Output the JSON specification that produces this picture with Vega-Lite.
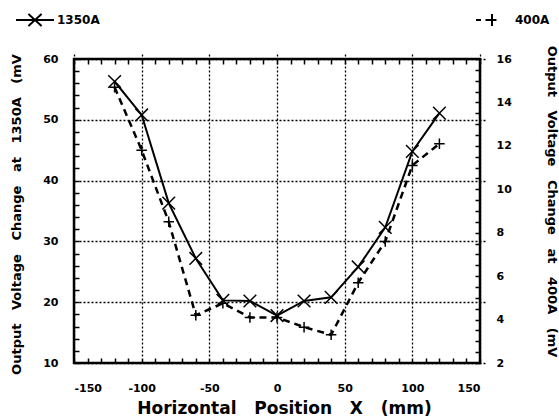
{
  "$schema": "https://vega.github.io/schema/vega-lite/v6.json",
  "width": 406,
  "height": 304,
  "autosize": {"type": "none"},
  "padding": {"left": 74, "top": 59, "right": 79, "bottom": 56},
  "background": "white",
  "config": {
    "view": {"stroke": "black", "strokeWidth": 2.5},
    "axis": {
      "labelFont": "DejaVu Sans",
      "labelFontWeight": "bold",
      "labelFontSize": 11,
      "labelColor": "black",
      "titleFont": "DejaVu Sans",
      "titleFontWeight": "bold",
      "titleColor": "black",
      "domain": false,
      "tickColor": "black",
      "tickWidth": 1.5,
      "tickSize": 5,
      "offset": -5,
      "gridColor": "black",
      "gridDash": [2, 2],
      "gridWidth": 1.3
    }
  },
  "datasets": {
    "d": [
      {"x": -120, "v1350": 56.3, "v400": 14.7},
      {"x": -100, "v1350": 50.8, "v400": 11.8},
      {"x": -80, "v1350": 36.3, "v400": 8.5},
      {"x": -60, "v1350": 27.2, "v400": 4.2},
      {"x": -40, "v1350": 20.3, "v400": 4.75},
      {"x": -20, "v1350": 20.2, "v400": 4.1},
      {"x": 0, "v1350": 17.8, "v400": 4.1},
      {"x": 20, "v1350": 20.2, "v400": 3.65},
      {"x": 40, "v1350": 20.8, "v400": 3.3},
      {"x": 60, "v1350": 25.8, "v400": 5.7},
      {"x": 80, "v1350": 32.3, "v400": 7.6},
      {"x": 100, "v1350": 44.8, "v400": 11.1},
      {"x": 120, "v1350": 51.1, "v400": 12.1}
    ]
  },
  "data": {"name": "d"},
  "layer": [
    {
      "encoding": {
        "x": {
          "field": "x",
          "type": "quantitative",
          "scale": {"domain": [-150, 150], "nice": false},
          "axis": {
            "orient": "bottom",
            "values": [-150, -140, -130, -120, -110, -100, -90, -80, -70, -60, -50, -40, -30, -20, -10, 0, 10, 20, 30, 40, 50, 60, 70, 80, 90, 100, 110, 120, 130, 140, 150],
            "labelExpr": "datum.value % 50 === 0 ? '' + datum.value : ''",
            "labelPadding": 19,
            "grid": true,
            "gridOpacity": {"condition": {"test": "datum.value % 50 === 0", "value": 1}, "value": 0},
            "title": "Horizontal\u00a0\u00a0\u00a0Position\u00a0\u00a0\u00a0X\u00a0\u00a0\u00a0(mm)",
            "titleFontSize": 17,
            "titleBaseline": "alphabetic",
            "titleX": 210,
            "titleY": 55
          }
        },
        "y": {
          "field": "v1350",
          "type": "quantitative",
          "scale": {"domain": [10, 60], "nice": false, "zero": false},
          "axis": {
            "orient": "left",
            "values": [10, 12, 14, 16, 18, 20, 22, 24, 26, 28, 30, 32, 34, 36, 38, 40, 42, 44, 46, 48, 50, 52, 54, 56, 58, 60],
            "labelExpr": "datum.value % 10 === 0 ? '' + datum.value : ''",
            "labelPadding": 16,
            "grid": true,
            "gridOpacity": {"condition": {"test": "datum.value % 10 === 0", "value": 1}, "value": 0},
            "title": "Output\u00a0\u00a0\u00a0Voltage\u00a0\u00a0\u00a0Change\u00a0\u00a0\u00a0at\u00a0\u00a0\u00a01350A\u00a0\u00a0\u00a0(mV",
            "titleFontSize": 13,
            "titleAngle": -90,
            "titleBaseline": "middle",
            "titleX": -63,
            "titleY": 155
          }
        }
      },
      "layer": [
        {
          "mark": {"type": "line", "strokeWidth": 2},
          "encoding": {
            "color": {
              "datum": "1350A",
              "scale": {"range": ["black"]},
              "legend": {
                "orient": "none",
                "legendX": -59,
                "legendY": -59,
                "title": null,
                "padding": 0,
                "symbolType": "M-1,0L1,0M-0.35,-0.32L0.35,0.32M-0.35,0.32L0.35,-0.32",
                "symbolSize": 1444,
                "symbolStrokeWidth": 2,
                "symbolStrokeColor": "black",
                "symbolFillColor": "transparent",
                "symbolDash": [1, 0],
                "labelFont": "DejaVu Sans",
                "labelFontWeight": "bold",
                "labelFontSize": 12,
                "labelColor": "black",
                "labelOffset": 2
              }
            }
          }
        },
        {
          "mark": {"type": "point", "shape": "M-1,-1L1,1M-1,1L1,-1", "size": 160, "filled": false, "color": "black", "strokeWidth": 1.5, "opacity": 1}
        }
      ]
    },
    {
      "encoding": {
        "x": {
          "field": "x",
          "type": "quantitative",
          "scale": {"domain": [-150, 150], "nice": false},
          "axis": {
            "orient": "top",
            "values": [-150, -140, -130, -120, -110, -100, -90, -80, -70, -60, -50, -40, -30, -20, -10, 0, 10, 20, 30, 40, 50, 60, 70, 80, 90, 100, 110, 120, 130, 140, 150],
            "labels": false,
            "grid": false,
            "title": null
          }
        },
        "y": {
          "field": "v400",
          "type": "quantitative",
          "scale": {"domain": [2, 16], "nice": false, "zero": false},
          "axis": {
            "orient": "right",
            "values": [2, 2.5, 3, 3.5, 4, 4.5, 5, 5.5, 6, 6.5, 7, 7.5, 8, 8.5, 9, 9.5, 10, 10.5, 11, 11.5, 12, 12.5, 13, 13.5, 14, 14.5, 15, 15.5, 16],
            "labelExpr": "datum.value % 2 === 0 ? '' + datum.value : ''",
            "labelPadding": 16,
            "grid": false,
            "title": "Output\u00a0\u00a0\u00a0Voltage\u00a0\u00a0\u00a0Change\u00a0\u00a0\u00a0at\u00a0\u00a0\u00a0400A\u00a0\u00a0\u00a0(mV",
            "titleFontSize": 13,
            "titleAngle": 90,
            "titleBaseline": "middle",
            "titleX": 76,
            "titleY": 142
          }
        }
      },
      "layer": [
        {
          "mark": {"type": "line", "strokeWidth": 2.5, "strokeDash": [7, 5]},
          "encoding": {
            "color": {
              "datum": "400A",
              "scale": {"range": ["black"]},
              "legend": {
                "orient": "none",
                "legendX": 401,
                "legendY": -50,
                "title": null,
                "padding": 0,
                "symbolType": "M-1,0L-0.5,0M-0.05,0L1.05,0M0.6,-0.6L0.6,0.6",
                "symbolSize": 400,
                "symbolStrokeWidth": 2,
                "symbolStrokeColor": "black",
                "symbolFillColor": "transparent",
                "symbolDash": [1, 0],
                "labelFont": "DejaVu Sans",
                "labelFontWeight": "bold",
                "labelFontSize": 12,
                "labelColor": "black",
                "labelOffset": 18
              }
            }
          }
        },
        {
          "mark": {"type": "point", "shape": "M-1,0L1,0M0,-1L0,1", "size": 110, "filled": false, "color": "black", "strokeWidth": 1.5, "opacity": 1}
        }
      ]
    }
  ],
  "resolve": {
    "scale": {"y": "independent", "color": "independent"},
    "axis": {"x": "independent"},
    "legend": {"color": "independent"}
  }
}
